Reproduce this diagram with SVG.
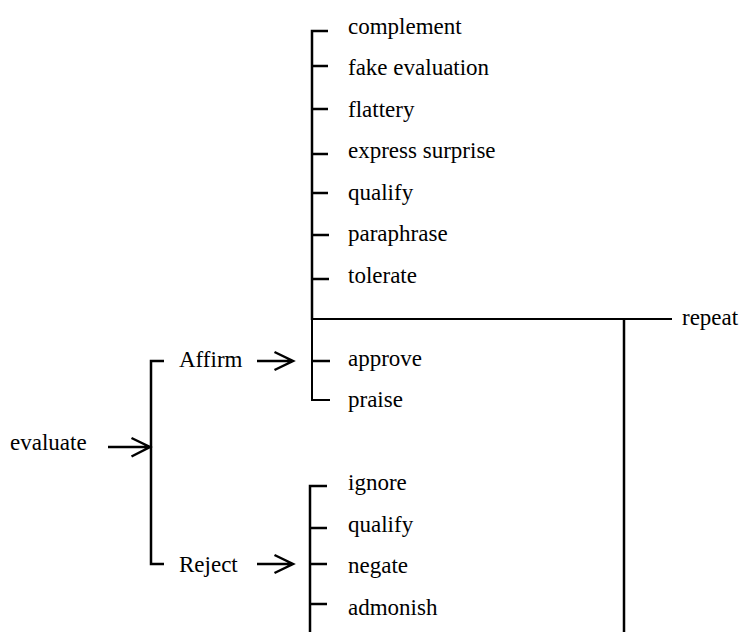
<svg xmlns="http://www.w3.org/2000/svg" width="745" height="632" viewBox="0 0 745 632">
  <style>
    .lbl { font-family: "Liberation Serif", "Times New Roman", serif; font-size: 23px; fill: #000; }
    .ln { stroke: #000; stroke-width: 2.5; fill: none; stroke-linecap: butt; }
    .thin { stroke: #000; stroke-width: 2; fill: none; }
    .arw { stroke: #000; stroke-width: 2.5; fill: none; }
  </style>

  <!-- brackets, ticks and arrows -->
  <g id="connectors">
    <!-- evaluate arrow into the Affirm/Reject bracket -->
    <path class="arw" d="M108 447 H150 M131.5 438 L150 447 L131.5 456.5"/>
    <!-- Affirm / Reject bracket -->
    <path class="ln" d="M164 361 H151 V564 H164"/>
    <!-- Affirm arrow -->
    <path class="arw" d="M257 361 H293 M274.5 352 L293 361 L274.5 370"/>
    <!-- Reject arrow -->
    <path class="arw" d="M257 564 H293 M274.5 555 L293 564 L274.5 573"/>

    <!-- upper option bracket -->
    <path class="ln" d="M328 31 H312 V320"/>
    <path class="thin" d="M312 320 V400 H330"/>
    <path class="ln" d="M312 66 H328 M312 109 H328 M312 154 H328 M312 193 H328 M312 235 H329 M312 279 H329 M312 361 H330"/>

    <!-- repeat line -->
    <path class="thin" d="M312 319 H672"/>
    <path class="ln" d="M624 319 V632"/>

    <!-- lower option bracket -->
    <path class="ln" d="M327 486 H310 V632"/>
    <path class="ln" d="M310 528 H327 M310 564 H327 M310 604 H327"/>
  </g>

  <g id="evaluate"><text class="lbl" x="10" y="450">evaluate</text></g>
  <g id="affirm"><text class="lbl" x="179" y="367">Affirm</text></g>
  <g id="reject"><text class="lbl" x="179" y="572">Reject</text></g>

  <g id="complement"><text class="lbl" x="348" y="34">complement</text></g>
  <g id="fake-evaluation"><text class="lbl" x="348" y="75">fake evaluation</text></g>
  <g id="flattery"><text class="lbl" x="348" y="117">flattery</text></g>
  <g id="express-surprise"><text class="lbl" x="348" y="158">express surprise</text></g>
  <g id="qualify-affirm"><text class="lbl" x="348" y="200">qualify</text></g>
  <g id="paraphrase"><text class="lbl" x="348" y="241">paraphrase</text></g>
  <g id="tolerate"><text class="lbl" x="348" y="283">tolerate</text></g>
  <g id="repeat"><text class="lbl" x="682" y="325">repeat</text></g>
  <g id="approve"><text class="lbl" x="348" y="366">approve</text></g>
  <g id="praise"><text class="lbl" x="348" y="407">praise</text></g>

  <g id="ignore"><text class="lbl" x="348" y="490">ignore</text></g>
  <g id="qualify-reject"><text class="lbl" x="348" y="532">qualify</text></g>
  <g id="negate"><text class="lbl" x="348" y="573">negate</text></g>
  <g id="admonish"><text class="lbl" x="348" y="615">admonish</text></g>
</svg>
